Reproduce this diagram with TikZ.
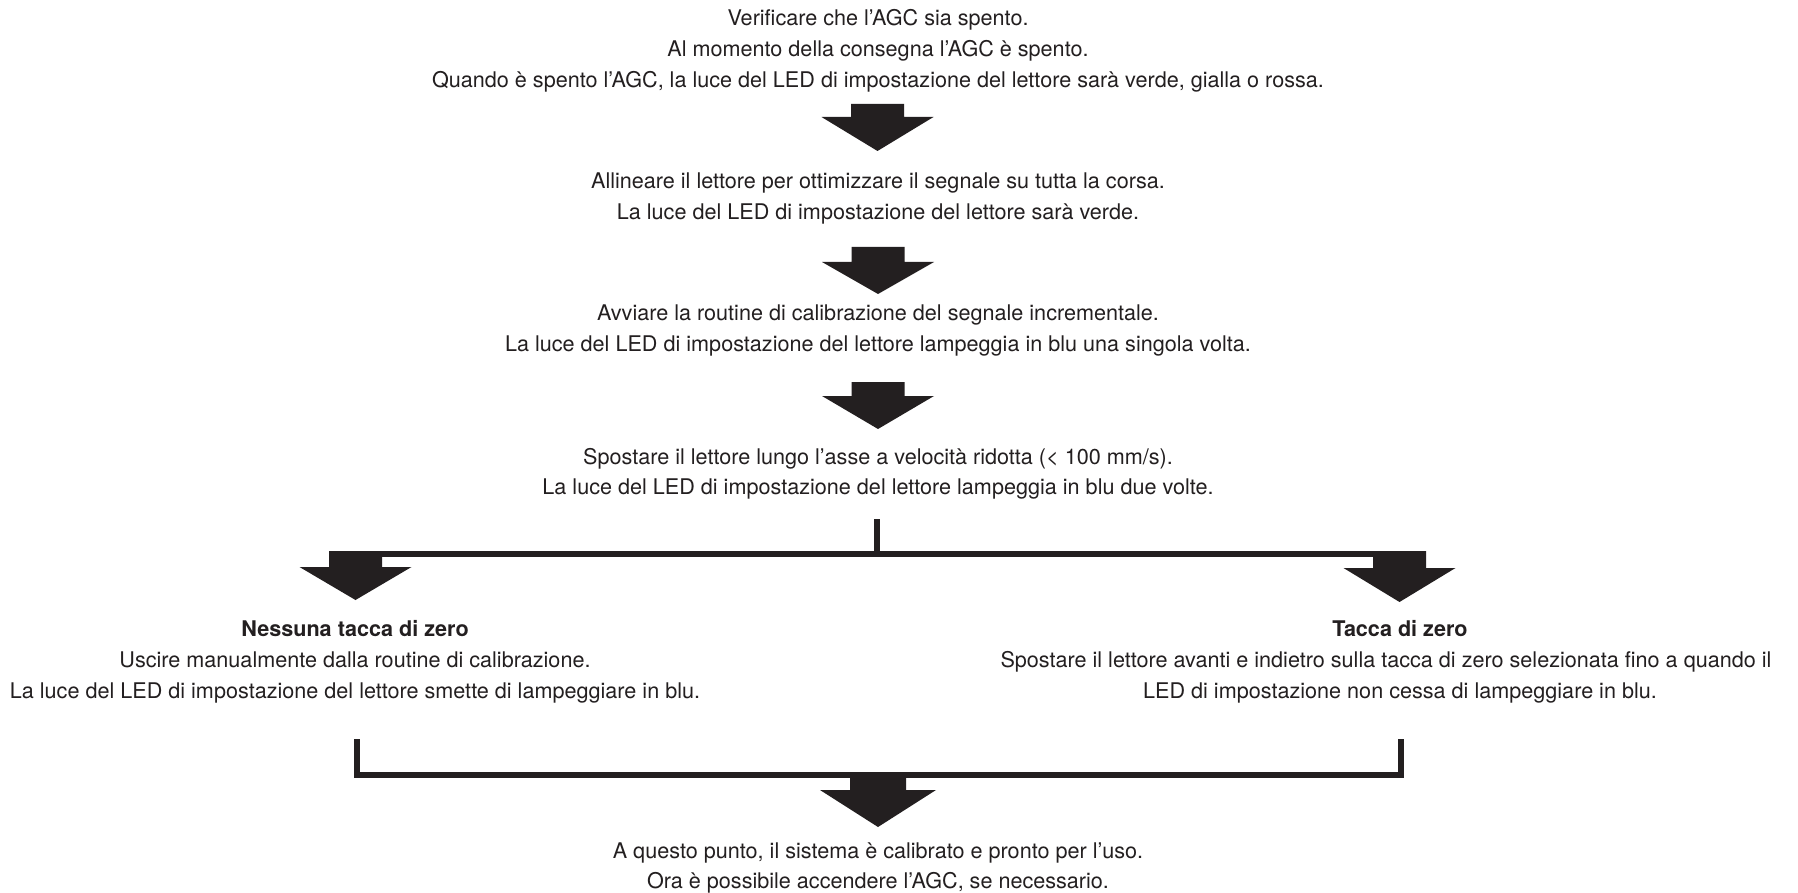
\documentclass[tikz,border=0pt]{standalone}
\usepackage{fontspec}
\setmainfont{TeX Gyre Heros}
\definecolor{ink}{HTML}{231F20}
\newcommand\blockarrow[6]{% cx, stem top, head top, tip, stem half, head half
  \fill[ink] ({#1-#5},#2) -- ({#1+#5},#2) -- ({#1+#5},#3) -- ({#1+#6},#3)
    -- (#1,#4) -- ({#1-#6},#3) -- ({#1-#5},#3) -- cycle;}
\begin{document}
\begin{tikzpicture}[x=1pt,y=-1pt,
  txt/.style={anchor=base,inner sep=0pt,text=ink,font=\fontsize{21.6}{31}\selectfont},
  btxt/.style={txt,font=\fontsize{21.6}{31}\selectfont\bfseries},
  rule/.style={draw=ink,line width=6.3pt}]
\useasboundingbox[fill=white] (0,0) rectangle (1798,893);
% block 1
\node[txt] (b1a) at (878,26) {Verificare che l’AGC sia spento.};
\node[txt] (b1b) at (878,57) {Al momento della consegna l’AGC è spento.};
\node[txt] (b1c) at (878,88) {Quando è spento l’AGC, la luce del LED di impostazione del lettore sarà verde, gialla o rossa.};
\blockarrow{877.5}{104}{117}{151}{26.5}{56}
% block 2
\node[txt] (b2a) at (878,189) {Allineare il lettore per ottimizzare il segnale su tutta la corsa.};
\node[txt] (b2b) at (878,220) {La luce del LED di impostazione del lettore sarà verde.};
\blockarrow{878}{247}{262}{294}{26.5}{56}
% block 3
\node[txt] (b3a) at (878,320) {Avviare la routine di calibrazione del segnale incrementale.};
\node[txt] (b3b) at (878,351) {La luce del LED di impostazione del lettore lampeggia in blu una singola volta.};
\blockarrow{878}{382}{396}{429}{26.5}{56}
% block 4
\node[txt] (b4a) at (878,464) {Spostare il lettore lungo l’asse a velocità ridotta (< 100 mm/s).};
\node[txt] (b4b) at (878,494) {La luce del LED di impostazione del lettore lampeggia in blu due volte.};
% split
\coordinate (stubtop) at (877,519);
\coordinate (stubbot) at (877,554);
\coordinate (barL) at (329,554);
\coordinate (barR) at (1426,554);
\draw[draw=ink,line width=6pt] (stubtop) -- (stubbot);
\draw[rule,line width=6pt] (barL) -- (barR);
\blockarrow{355.5}{551}{567}{600}{26.5}{56}
\blockarrow{1399.5}{551}{568}{602}{26.5}{56}
% left branch
\node[btxt] (l1) at (355,636) {Nessuna tacca di zero};
\node[txt] (l2) at (355,667) {Uscire manualmente dalla routine di calibrazione.};
\node[txt] (l3) at (355,698) {La luce del LED di impostazione del lettore smette di lampeggiare in blu.};
% right branch
\node[btxt] (r1) at (1400,636) {Tacca di zero};
\node[txt] (r2) at (1386,667) {Spostare il lettore avanti e indietro sulla tacca di zero selezionata fino a quando il};
\node[txt] (r3) at (1400,698) {LED di impostazione non cessa di lampeggiare in blu.};
% merge
\coordinate (mL) at (356.7,739);
\coordinate (mR) at (1400.7,739);
\draw[rule,line join=miter] (mL) -- (356.7,775) -- (1400.7,775) -- (mR);
\blockarrow{878}{777}{790}{827}{28}{58}
\node[txt] (e1) at (878,858) {A questo punto, il sistema è calibrato e pronto per l’uso.};
\node[txt] (e2) at (878,888) {Ora è possibile accendere l’AGC, se necessario.};
\end{tikzpicture}
\end{document}
